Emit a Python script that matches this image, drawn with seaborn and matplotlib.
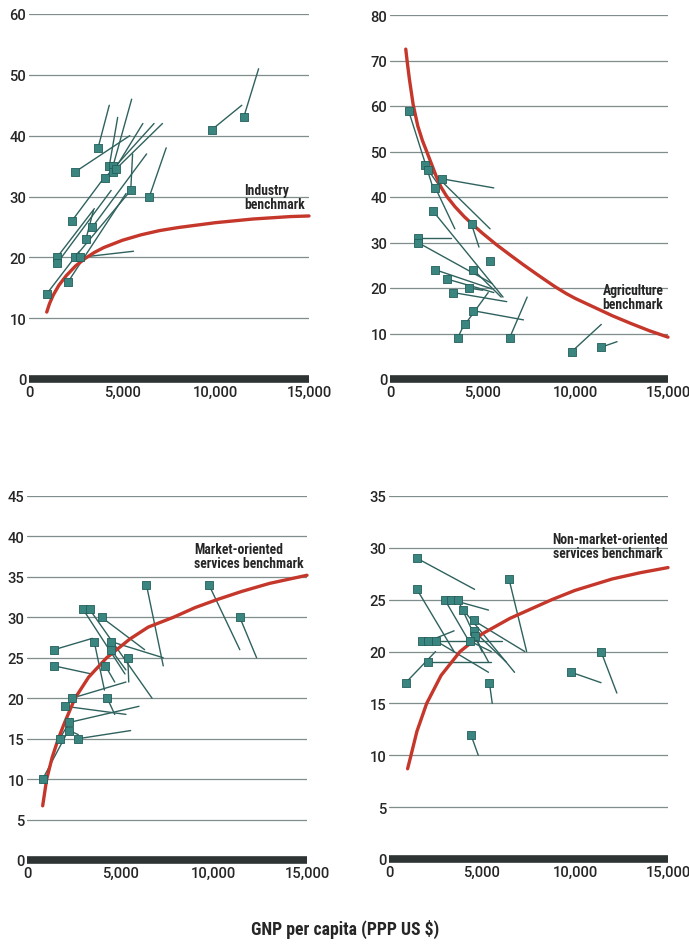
import matplotlib
matplotlib.use("Agg")
import matplotlib.pyplot as plt
from matplotlib import font_manager
import seaborn as sns
import pandas as pd
from matplotlib.ticker import FuncFormatter

# ---------------- Industry ----------------
ind_x0 = [950, 1500, 1500, 2100, 2300, 2450, 2450, 2750, 3050, 3400,
          3700, 4050, 4300, 4500, 4500, 4650, 5450, 6450, 9800, 11500]
ind_y0 = [14, 20, 19, 16, 26, 34, 20, 20, 23, 25,
          38, 33, 35, 35, 34, 34.5, 31, 30, 41, 43]
ind_x1 = [2700, 3500, 4400, 5200, 4000, 5400, 5450, 5600, 3450, 6300,
          4300, 6700, 4750, 5500, 6100, 7150, 5550, 7350, 11400, 12300]
ind_y1 = [21, 28, 31, 30.5, 33, 40, 31, 21, 27.7, 37,
          45, 42, 43, 46, 42, 42, 37, 38, 45, 51]
ind_curve_x = [950, 1100, 1300, 1600, 2000, 2500, 3000, 3500, 4000, 5000,
               6000, 7000, 8000, 9000, 10000, 11000, 12000, 13000, 14000, 15000]
ind_curve_y = [11, 12.4, 13.8, 15.4, 17, 18.6, 19.8, 20.8, 21.6, 22.8,
               23.7, 24.4, 24.9, 25.3, 25.7, 26, 26.3, 26.5, 26.7, 26.8]

# ---------------- Agriculture ----------------
agr_x0 = [1000, 1900, 2050, 2800, 2450, 2300, 1500, 1500, 4400, 5400,
          2450, 4500, 3050, 4250, 3400, 4500, 4050, 3650, 6450, 9800, 11400]
agr_y0 = [59, 47, 46, 44, 42, 37, 31, 30, 34, 26,
          24, 24, 22, 20, 19, 15, 12, 9, 9, 6, 7]
agr_x1 = [2400, 5400, 3250, 5600, 3500, 6100, 3300, 5500, 4800, 5400,
          5500, 6000, 5600, 5000, 6300, 7200, 5300, 4000, 7400, 11400, 12250]
agr_y1 = [41, 33, 39, 42, 33, 18, 31, 21, 29, 26,
          19.8, 18, 19, 19.5, 17, 13, 19, 12, 18, 12, 8.2]
agr_curve_x = [850, 935, 1050, 1250, 1500, 1750, 2000, 2500, 2750, 3050,
               3500, 4000, 4500, 5000, 5750, 6500, 7200, 8000, 8500, 8900,
               9500, 10000, 11000, 12000, 13000, 14000, 15000]
agr_curve_y = [72.5, 69.5, 65.8, 60.3, 55.6, 52.4, 49.8, 44.5, 42.2, 40.2,
               37.9, 35.7, 33.8, 32.0, 29.5, 27.2, 25.1, 22.8, 21.4, 20.3,
               18.8, 17.7, 15.8, 13.9, 12.2, 10.6, 9.2]

# ---------------- Market-oriented services ----------------
mkt_x0 = [840, 1750, 2250, 2250, 2750, 2050, 2400, 1450, 1450, 3000,
          3350, 4000, 3600, 4500, 4500, 4200, 4300, 5400, 6400, 9750, 11400]
mkt_y0 = [10, 15, 16, 17, 15, 19, 20, 24, 26, 31,
          31, 30, 27, 27, 26, 24, 20, 25, 34, 34, 30]
mkt_x1 = [2100, 2400, 2750, 6000, 5550, 5300, 5300, 3450, 3500, 5250,
          6700, 6300, 4150, 7300, 5300, 4700, 4700, 5450, 7300, 11400, 12300]
mkt_y1 = [15.5, 17.5, 15.5, 19, 16, 18, 22, 23, 27.4, 23,
          20, 26, 21, 25, 23.5, 22, 18, 22, 24, 26, 25]
mkt_curve_x = [840, 1054, 1350, 1678, 2000, 2571, 3300, 4268, 5500, 6500,
               7838, 9000, 10190, 11500, 13000, 15000]
mkt_curve_y = [6.7, 10, 12.7, 15, 16.9, 20, 22.6, 25, 27.3, 28.8,
               30, 31.2, 32.2, 33.2, 34.2, 35.2]

# ---------------- Non-market-oriented services ----------------
nmk_x0 = [900, 2100, 1500, 1500, 1750, 2100, 2550, 3000, 3350, 3700,
          4000, 4550, 4550, 4600, 4350, 5400, 4400, 6450, 9800, 11400]
nmk_y0 = [17, 19, 29, 26, 21, 21, 21, 25, 25, 25,
          24, 23, 22, 21.5, 21, 17, 12, 27, 18, 20]
nmk_x1 = [2500, 5500, 4600, 3500, 6050, 3500, 5350, 4300, 5350, 5000,
          6750, 7300, 6300, 5350, 5500, 5550, 4800, 7400, 11400, 12250]
nmk_y1 = [20, 19, 26, 20, 21, 22, 18, 21, 24, 20,
          18, 20, 19, 19, 20, 15, 10, 20, 17, 16]
nmk_curve_x = [1000, 1183, 1500, 2025, 2800, 3817, 5000, 6500, 8746, 10000,
               12000, 13500, 15000]
nmk_curve_y = [8.7, 10, 12.3, 15, 17.7, 20, 21.7, 23.2, 25, 25.9,
               27, 27.6, 28.1]

x_ticks = [0, 5000, 10000, 15000]

panels = [
    dict(x0=ind_x0, y0=ind_y0, x1=ind_x1, y1=ind_y1, cx=ind_curve_x, cy=ind_curve_y,
         yticks=[0, 10, 20, 30, 40, 50, 60], rect=[29, 15, 309, 380],
         label="Industry\nbenchmark", lx=11550, ly=32.2, ha="left"),
    dict(x0=agr_x0, y0=agr_y0, x1=agr_x1, y1=agr_y1, cx=agr_curve_x, cy=agr_curve_y,
         yticks=[0, 10, 20, 30, 40, 50, 60, 70, 80], rect=[390, 16, 668, 380],
         label="Agriculture\nbenchmark", lx=14750, ly=21.0, ha="right"),
    dict(x0=mkt_x0, y0=mkt_y0, x1=mkt_x1, y1=mkt_y1, cx=mkt_curve_x, cy=mkt_curve_y,
         yticks=[0, 5, 10, 15, 20, 25, 30, 35, 40, 45], rect=[27, 497, 307, 861],
         label="Market-oriented\nservices benchmark", lx=8950, ly=39.3, ha="left"),
    dict(x0=nmk_x0, y0=nmk_y0, x1=nmk_x1, y1=nmk_y1, cx=nmk_curve_x, cy=nmk_curve_y,
         yticks=[0, 5, 10, 15, 20, 25, 30, 35], rect=[389, 497, 668, 860],
         label="Non-market-oriented\nservices benchmark", lx=8800, ly=31.5, ha="left"),
]


def pick_family(candidates):
    for name in candidates:
        try:
            font_manager.findfont(font_manager.FontProperties(family=name),
                                  fallback_to_default=False)
            return name
        except Exception:
            continue
    return "DejaVu Sans"


NARROW = pick_family(["Roboto Condensed", "Liberation Sans Narrow", "Roboto"])
REGULAR = pick_family(["Roboto", "Liberation Sans"])

sns.set_theme(style="white")
plt.rcParams["font.family"] = [REGULAR, "DejaVu Sans"]

W, H = 689, 945
fig = plt.figure(figsize=(W / 100, H / 100), dpi=100)

SQ_FACE = "#3b8580"
SQ_EDGE = "#235e5a"
SEG = "#2f625e"
RED = "#c5372b"
GRID = "#7f8d8c"
BASE = "#2e3434"
TXT = "#262626"

for p in panels:
    l, t, r, b = p["rect"]
    ax = fig.add_axes([l / W, 1 - b / H, (r - l) / W, (b - t) / H])

    ymax = p["yticks"][-1]
    ax.set_xlim(0, 15000)
    ax.set_ylim(0, ymax)
    for yv in p["yticks"][1:]:
        ax.axhline(yv, color=GRID, lw=0.9, zorder=0)
    ax.axhline(0, color=BASE, lw=5.5, zorder=1, clip_on=False,
               solid_capstyle="butt")

    segs = pd.DataFrame({
        "gnp": [v for pair in zip(p["x0"], p["x1"]) for v in pair],
        "share": [v for pair in zip(p["y0"], p["y1"]) for v in pair],
        "unit": [i for i in range(len(p["x0"])) for _ in range(2)],
    })
    sns.lineplot(data=segs, x="gnp", y="share", units="unit", estimator=None,
                 sort=False, color=SEG, lw=1.0, ax=ax, zorder=2)

    curve = pd.DataFrame({"gnp": p["cx"], "share": p["cy"]})
    sns.lineplot(data=curve, x="gnp", y="share", color=RED, lw=2.4,
                 ax=ax, zorder=3, clip_on=False)

    pts = pd.DataFrame({"gnp": p["x0"], "share": p["y0"]})
    sns.scatterplot(data=pts, x="gnp", y="share", marker="s", s=34,
                    color=SQ_FACE, edgecolor=SQ_EDGE, linewidth=0.6,
                    ax=ax, zorder=4)

    ax.text(p["lx"], p["ly"], p["label"], ha=p["ha"], va="top",
            fontsize=9.8, fontweight="bold", color=TXT, linespacing=0.95,
            family=[NARROW, "DejaVu Sans"], zorder=5)

    ax.set_xticks(x_ticks)
    ax.xaxis.set_major_formatter(FuncFormatter(lambda v, _: f"{int(v):,}"))
    ax.set_yticks(p["yticks"])
    ax.tick_params(axis="both", length=0, labelsize=10.6, colors=TXT)
    ax.tick_params(axis="y", pad=2)
    ax.tick_params(axis="x", pad=4)
    for lab in ax.get_xticklabels() + ax.get_yticklabels():
        lab.set_fontweight("medium")
    ax.set_xlabel("")
    ax.set_ylabel("")
    for s in ax.spines.values():
        s.set_visible(False)
    ax.patch.set_alpha(0)

fig.text(345 / W, 1 - 929 / H, "GNP per capita (PPP US $)", ha="center",
         va="center", fontsize=12.8, fontweight="bold", color=TXT,
         family=[NARROW, "DejaVu Sans"])

fig.savefig("out.png", dpi=100, facecolor="white")
